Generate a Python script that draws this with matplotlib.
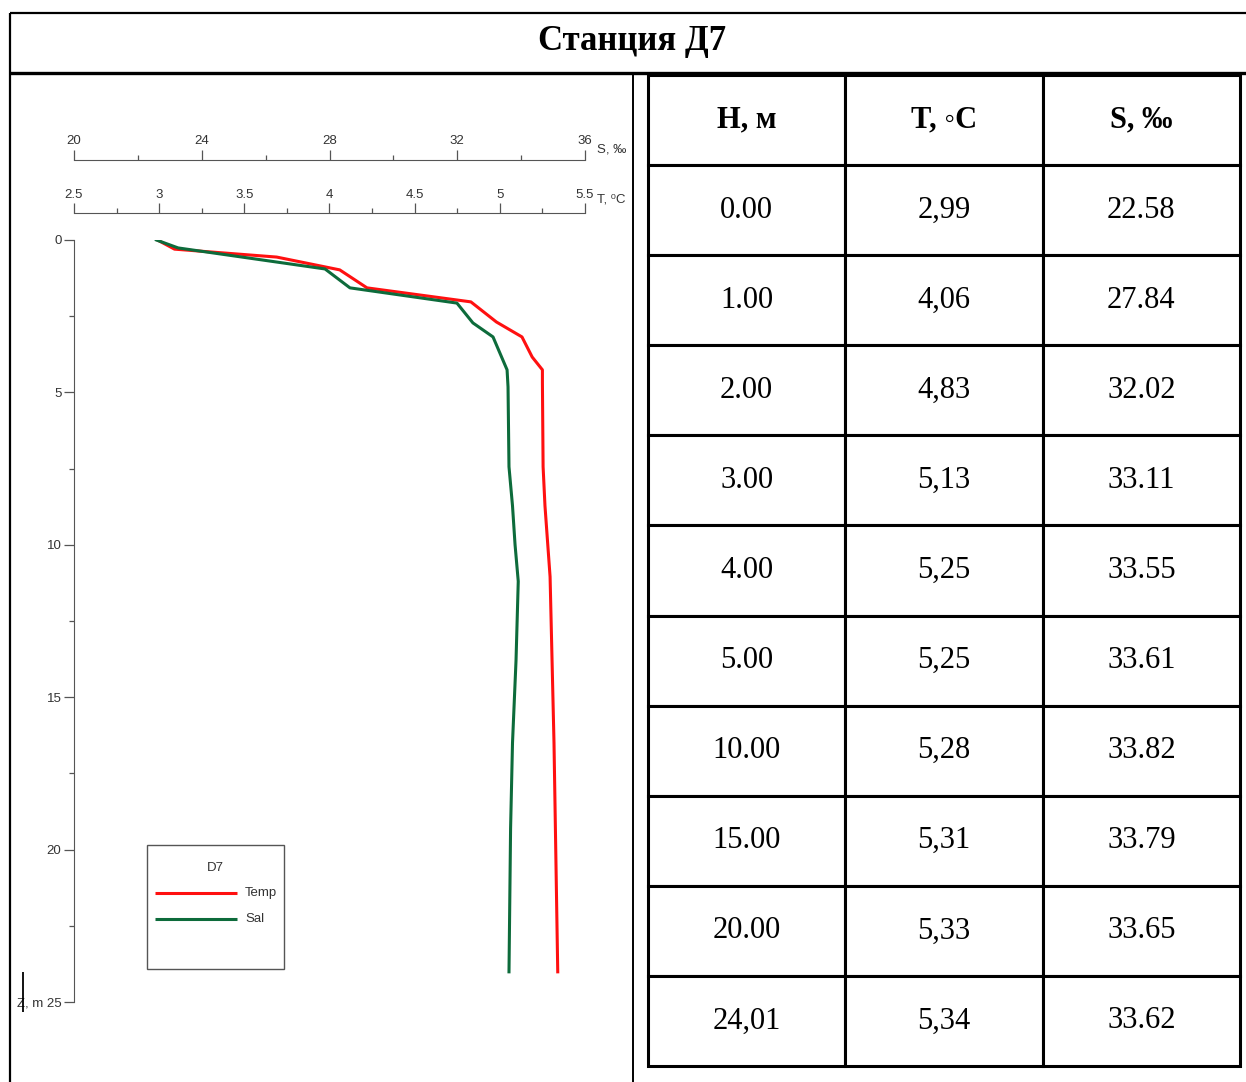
import numpy as np
import matplotlib
matplotlib.use('Agg')
import matplotlib.pyplot as plt
from matplotlib.lines import Line2D
from matplotlib.patches import Rectangle
from matplotlib.ticker import MultipleLocator, FixedLocator, FixedFormatter

# ── Profile data ───────────────────────────────────────────────────────────
depth_T = [0.0, 0.30, 0.56, 0.98, 1.57, 2.03, 2.69, 3.18, 3.84, 4.26, 4.69,
           7.44, 8.72, 11.05, 16.5, 24.01]
temp    = [2.99, 3.09, 3.69, 4.06, 4.22, 4.83, 4.98, 5.13, 5.19, 5.25, 5.25,
           5.254, 5.265, 5.295, 5.318, 5.34]

depth_S = [0.0, 0.26, 0.95, 1.57, 2.07, 2.72, 3.18, 4.26, 4.82, 7.44, 8.72,
           10.0, 11.2, 13.8, 16.5, 19.3, 24.01]
sal     = [22.58, 23.26, 27.86, 28.64, 31.99, 32.49, 33.12, 33.56, 33.59,
           33.62, 33.73, 33.81, 33.91, 33.84, 33.73, 33.67, 33.62]

# ── Table contents ─────────────────────────────────────────────────────────
col_labels = ["H, м", "T, ◦C", "S, ‰"]
tbl_depth  = ["0.00", "1.00", "2.00", "3.00", "4.00", "5.00",
              "10.00", "15.00", "20.00", "24,01"]
tbl_temp   = ["2,99", "4,06", "4,83", "5,13", "5,25", "5,25",
              "5,28", "5,31", "5,33", "5,34"]
tbl_sal    = ["22.58", "27.84", "32.02", "33.11", "33.55", "33.61",
              "33.82", "33.79", "33.65", "33.62"]

TITLE   = "Станция Д7"
RED     = '#ff1010'
GREEN   = '#0d6b3b'
GREY    = '#555555'
TXT     = '#333333'
SANS    = ['Liberation Sans', 'DejaVu Sans']
SERIF   = ['Liberation Serif', 'DejaVu Serif']

W, H = 1246, 1082
fig = plt.figure(figsize=(W / 100, H / 100), dpi=100)

def fx(px):
    return px / W

def fy(py):
    return 1 - py / H

def fline(xs, ys, lw, color='black'):
    fig.add_artist(Line2D([fx(x) for x in xs], [fy(y) for y in ys],
                          transform=fig.transFigure, color=color, lw=lw,
                          solid_capstyle='butt'))

# ── Frame ──────────────────────────────────────────────────────────────────
fline([10, 1246], [13, 13], 1.6)
fline([10, 1246], [73, 73], 2.4)
fline([10, 10], [13, 1082], 1.6)
fline([633, 633], [73, 1082], 1.4)
fig.text(fx(632), fy(41), TITLE, ha='center', va='center',
         fontsize=25, fontweight='bold', family=SERIF)

# ── Profile plot ───────────────────────────────────────────────────────────
ax = fig.add_axes([fx(74), fy(1002), fx(585) - fx(74), (1002 - 240) / H])
ax2 = ax.twiny()

# temperature axis (inner top scale) + depth axis
ax.set_xlim(2.5, 5.5)
ax.set_ylim(25, 0)
for s in ['bottom', 'right']:
    ax.spines[s].set_visible(False)
ax.spines['left'].set_color(GREY)
ax.spines['top'].set_color(GREY)
ax.spines['top'].set_position(('outward', 27 * 0.72))
ax.xaxis.set_ticks_position('top')
ax.xaxis.set_label_position('top')
ax.xaxis.set_major_locator(MultipleLocator(0.5))
ax.xaxis.set_minor_locator(MultipleLocator(0.25))
ax.xaxis.set_major_formatter(plt.FuncFormatter(lambda v, p: f"{v:g}"))
ax.yaxis.set_major_locator(FixedLocator([0, 5, 10, 15, 20, 25]))
ax.yaxis.set_major_formatter(FixedFormatter(['0', '5', '10', '15', '20', 'Z, m 25']))
ax.yaxis.set_minor_locator(MultipleLocator(2.5))
ax.tick_params(which='major', length=7, width=0.9, color=GREY,
               labelcolor=TXT, labelsize=9.5, pad=2)
ax.tick_params(which='minor', length=3.5, width=0.9, color=GREY)
ax.tick_params(axis='x', which='both', top=True, bottom=False,
               labeltop=True, labelbottom=False)
for lab in ax.get_xticklabels() + ax.get_yticklabels():
    lab.set_family(SANS)

# salinity axis (outer top scale)
ax2.set_xlim(20, 36)
for s in ['bottom', 'right', 'left']:
    ax2.spines[s].set_visible(False)
ax2.spines['top'].set_color(GREY)
ax2.spines['top'].set_position(('outward', 80 * 0.72))
ax2.xaxis.set_major_locator(MultipleLocator(4))
ax2.xaxis.set_minor_locator(MultipleLocator(2))
ax2.tick_params(which='major', length=7, width=0.9, color=GREY,
                labelcolor=TXT, labelsize=9.5, pad=2)
ax2.tick_params(which='minor', length=3.5, width=0.9, color=GREY)
for lab in ax2.get_xticklabels():
    lab.set_family(SANS)

ax.plot(temp, depth_T, color=RED, lw=2.2, zorder=3)
ax2.plot(sal, depth_S, color=GREEN, lw=2.2, zorder=3)

fig.text(fx(597), fy(149), "S, ‰", fontsize=9.5, color=TXT,
         va='center', family=SANS)
fig.text(fx(597), fy(199), "T, ⁰C", fontsize=9.5, color=TXT,
         va='center', family=SANS)
fline([23, 23], [972, 1012], 1.3)

# legend box
fig.add_artist(Rectangle((fx(147), fy(969)), fx(284) - fx(147), (969 - 845) / H,
                         transform=fig.transFigure, fill=False,
                         edgecolor=GREY, lw=1.0))
fig.text(fx(215), fy(868), "D7", ha='center', va='center', fontsize=9.5,
         color=TXT, family=SANS)
fline([155, 237], [893, 893], 2.2, RED)
fline([155, 237], [919, 919], 2.2, GREEN)
fig.text(fx(245), fy(893), "Temp", va='center', fontsize=9.5,
         color=TXT, family=SANS)
fig.text(fx(245), fy(919), "Sal", va='center', fontsize=9.5,
         color=TXT, family=SANS)

# ── Data table ─────────────────────────────────────────────────────────────
tax = fig.add_axes([fx(648), fy(1066), fx(1240) - fx(648), (1066 - 75) / H])
tax.axis('off')
rows = [list(r) for r in zip(tbl_depth, tbl_temp, tbl_sal)]
tbl = tax.table(cellText=rows, colLabels=col_labels, cellLoc='center',
                bbox=[0, 0, 1, 1])
tbl.auto_set_font_size(False)
for (r, c), cell in tbl.get_celld().items():
    cell.set_linewidth(2.2)
    cell.set_edgecolor('black')
    txt = cell.get_text()
    txt.set_fontsize(22)
    txt.set_family(SERIF)
    if r == 0:
        txt.set_fontweight('bold')

fig.savefig("out.png", dpi=100)
